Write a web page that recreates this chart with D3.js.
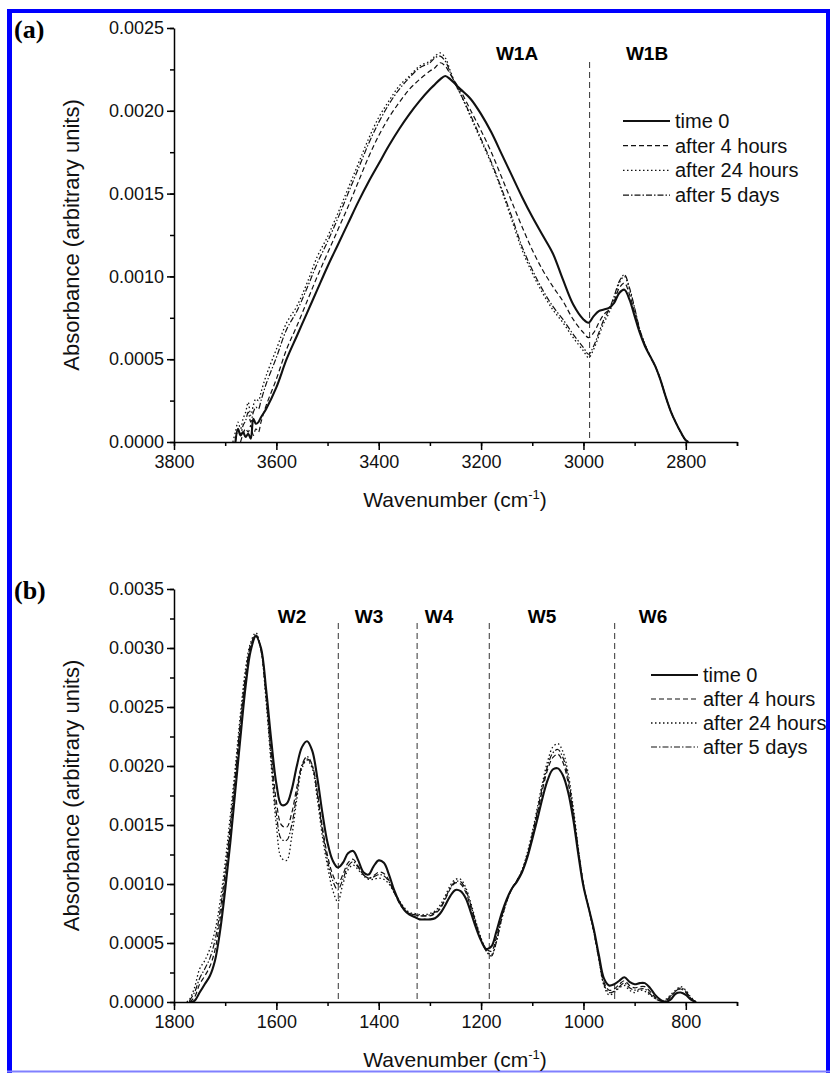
<!DOCTYPE html>
<html>
<head>
<meta charset="utf-8">
<script src="https://cdn.jsdelivr.net/npm/d3@7"></script>
<style>
  body { margin: 0; background: #fff; }
  svg { display: block; font-family: Arial, "Liberation Sans", sans-serif; }
</style>
</head>
<body>
<div id="chart"></div>
<script>
// ---- data, panel (a) ----
const waveA = [3685, 3680, 3675, 3670, 3665, 3660, 3655, 3650, 3645, 3640, 3635, 3630, 3620, 3600, 3580, 3560, 3540, 3520, 3500,
  3480, 3460, 3440, 3420, 3400, 3380, 3360, 3340, 3320, 3300, 3290, 3280, 3270, 3260, 3250, 3240, 3220, 3200, 3180, 3160,
  3140, 3120, 3100, 3080, 3060, 3040, 3020, 3000, 2990, 2980, 2970, 2960, 2950, 2940, 2930, 2920, 2910, 2900, 2890, 2880,
  2870, 2860, 2850, 2840, 2830, 2820, 2810, 2800, 2795];
const a_time0 = [null, 0.00000, 0.00008, 0.00004, 0.00006, 0.00003, 0.00005, 0.00002, 0.00014, 0.00011, 0.00012, 0.00015, 0.00020, 0.00033, 0.00050, 0.00064, 0.00078, 0.00092, 0.00106,
  0.00119, 0.00132, 0.00145, 0.00157, 0.00168, 0.00179, 0.00189, 0.00198, 0.00206, 0.00213, 0.00216, 0.00219, 0.00221, 0.00219, 0.00216, 0.00213, 0.00207, 0.00198, 0.00187, 0.00174,
  0.00161, 0.00148, 0.00136, 0.00125, 0.00114, 0.00098, 0.00083, 0.00074, 0.00072, 0.00076, 0.00079, 0.00080, 0.00081, 0.00084, 0.00090, 0.00092, 0.00086, 0.00076, 0.00066, 0.00058,
  0.00052, 0.00046, 0.00038, 0.00028, 0.00019, 0.00012, 0.00006, 0.00001, 0.00000];
const a_4h = [null, null, null, 0.00000, 0.00005, 0.00008, 0.00006, 0.00010, 0.00004, 0.00008, 0.00006, 0.00012, 0.00022, 0.00038, 0.00056, 0.00070, 0.00085, 0.00100, 0.00114,
  0.00128, 0.00142, 0.00157, 0.00172, 0.00185, 0.00196, 0.00205, 0.00213, 0.00219, 0.00224, 0.00226, 0.00229, 0.00227, 0.00222, 0.00217, 0.00212, 0.00200, 0.00188, 0.00175, 0.00160,
  0.00145, 0.00130, 0.00116, 0.00104, 0.00094, 0.00085, 0.00074, 0.00066, 0.00063, 0.00066, 0.00072, 0.00077, 0.00080, 0.00085, 0.00093, 0.00096, 0.00089, 0.00078, 0.00067, 0.00059,
  0.00052, 0.00046, 0.00038, 0.00028, 0.00019, 0.00012, 0.00006, 0.00001, 0.00000];
const a_24h = [0.00000, 0.00006, 0.00012, 0.00008, 0.00014, 0.00018, 0.00024, 0.00016, 0.00022, 0.00026, 0.00025, 0.00030, 0.00040, 0.00056, 0.00072, 0.00082, 0.00096, 0.00112, 0.00124,
  0.00138, 0.00153, 0.00168, 0.00183, 0.00196, 0.00206, 0.00215, 0.00221, 0.00227, 0.00230, 0.00233, 0.00235, 0.00232, 0.00224, 0.00216, 0.00210, 0.00196, 0.00182, 0.00168, 0.00152,
  0.00134, 0.00116, 0.00102, 0.00090, 0.00080, 0.00072, 0.00063, 0.00055, 0.00051, 0.00056, 0.00064, 0.00072, 0.00078, 0.00086, 0.00096, 0.00100, 0.00092, 0.00080, 0.00068, 0.00059,
  0.00052, 0.00046, 0.00038, 0.00028, 0.00019, 0.00012, 0.00006, 0.00001, 0.00000];
const a_5d = [null, 0.00000, 0.00007, 0.00005, 0.00010, 0.00013, 0.00018, 0.00012, 0.00018, 0.00021, 0.00020, 0.00025, 0.00035, 0.00051, 0.00068, 0.00079, 0.00093, 0.00108, 0.00121,
  0.00135, 0.00150, 0.00165, 0.00180, 0.00193, 0.00204, 0.00213, 0.00220, 0.00226, 0.00229, 0.00232, 0.00233, 0.00230, 0.00223, 0.00216, 0.00210, 0.00197, 0.00183, 0.00169, 0.00153,
  0.00136, 0.00118, 0.00104, 0.00092, 0.00082, 0.00074, 0.00065, 0.00057, 0.00053, 0.00058, 0.00066, 0.00074, 0.00080, 0.00088, 0.00097, 0.00101, 0.00093, 0.00081, 0.00068, 0.00059,
  0.00052, 0.00046, 0.00038, 0.00028, 0.00019, 0.00012, 0.00006, 0.00001, 0.00000];

// ---- data, panel (b) ----
const waveB = [1775, 1770, 1760, 1750, 1740, 1730, 1720, 1710, 1700, 1690, 1680, 1670, 1660, 1650, 1640, 1630, 1620, 1610, 1600,
  1590, 1580, 1570, 1560, 1550, 1540, 1530, 1520, 1510, 1500, 1490, 1480, 1470, 1460, 1450, 1440, 1430, 1420, 1410, 1400,
  1390, 1380, 1370, 1360, 1350, 1340, 1330, 1320, 1310, 1300, 1290, 1280, 1270, 1260, 1250, 1240, 1230, 1220, 1210, 1200,
  1190, 1180, 1170, 1160, 1150, 1140, 1130, 1120, 1110, 1100, 1090, 1080, 1070, 1060, 1050, 1040, 1030, 1020, 1010, 1000,
  990, 980, 970, 960, 950, 940, 930, 920, 910, 900, 890, 880, 870, 860, 850, 840, 830, 820, 810, 800, 790, 780];
const b_time0 = [null, 0.00000, 0.00001, 0.00008, 0.00015, 0.00022, 0.00035, 0.00060, 0.00095, 0.00135, 0.00180, 0.00225, 0.00268, 0.00298, 0.00310, 0.00300, 0.00265, 0.00222, 0.00185,
  0.00167, 0.00168, 0.00180, 0.00200, 0.00216, 0.00221, 0.00213, 0.00190, 0.00160, 0.00135, 0.00120, 0.00114, 0.00118, 0.00126, 0.00128, 0.00120, 0.00110, 0.00108, 0.00115, 0.00120,
  0.00118, 0.00108, 0.00095, 0.00085, 0.00078, 0.00074, 0.00072, 0.00070, 0.00070, 0.00070, 0.00071, 0.00075, 0.00082, 0.00090, 0.00095, 0.00094, 0.00088, 0.00076, 0.00063, 0.00052,
  0.00045, 0.00047, 0.00060, 0.00075, 0.00087, 0.00096, 0.00102, 0.00110, 0.00122, 0.00138, 0.00155, 0.00173, 0.00188, 0.00197, 0.00198, 0.00192, 0.00178, 0.00155, 0.00125, 0.00098,
  0.00080, 0.00062, 0.00040, 0.00020, 0.00014, 0.00015, 0.00018, 0.00021, 0.00017, 0.00015, 0.00016, 0.00016, 0.00012, 0.00006, 0.00002, 0.00000, 0.00002, 0.00007, 0.00008, 0.00006, 0.00002, 0.00000];
const b_4h = [null, 0.00000, 0.00004, 0.00015, 0.00022, 0.00030, 0.00044, 0.00070, 0.00105, 0.00145, 0.00190, 0.00235, 0.00275, 0.00302, 0.00311, 0.00299, 0.00260, 0.00212, 0.00170,
  0.00150, 0.00148, 0.00160, 0.00182, 0.00200, 0.00206, 0.00200, 0.00178, 0.00148, 0.00124, 0.00108, 0.00100, 0.00108, 0.00118, 0.00121, 0.00115, 0.00108, 0.00105, 0.00107, 0.00110,
  0.00109, 0.00103, 0.00093, 0.00084, 0.00078, 0.00075, 0.00074, 0.00073, 0.00073, 0.00073, 0.00075, 0.00079, 0.00087, 0.00096, 0.00101, 0.00100, 0.00093, 0.00080, 0.00066, 0.00053,
  0.00045, 0.00043, 0.00055, 0.00072, 0.00086, 0.00096, 0.00103, 0.00111, 0.00124, 0.00141, 0.00160, 0.00180, 0.00197, 0.00207, 0.00210, 0.00203, 0.00186, 0.00160, 0.00128, 0.00099,
  0.00080, 0.00061, 0.00038, 0.00017, 0.00010, 0.00011, 0.00015, 0.00018, 0.00014, 0.00012, 0.00013, 0.00013, 0.00009, 0.00004, 0.00001, 0.00001, 0.00004, 0.00009, 0.00011, 0.00008, 0.00003, 0.00000];
const b_24h = [0.00000, 0.00002, 0.00012, 0.00028, 0.00035, 0.00045, 0.00060, 0.00085, 0.00118, 0.00158, 0.00200, 0.00245, 0.00283, 0.00305, 0.00313, 0.00298, 0.00255, 0.00200, 0.00150,
  0.00122, 0.00120, 0.00140, 0.00172, 0.00198, 0.00205, 0.00198, 0.00172, 0.00140, 0.00115, 0.00095, 0.00085, 0.00100, 0.00112, 0.00116, 0.00112, 0.00107, 0.00104, 0.00104, 0.00105,
  0.00104, 0.00100, 0.00093, 0.00086, 0.00080, 0.00076, 0.00075, 0.00074, 0.00074, 0.00075, 0.00077, 0.00082, 0.00090, 0.00099, 0.00104, 0.00104, 0.00097, 0.00084, 0.00068, 0.00054,
  0.00044, 0.00040, 0.00052, 0.00070, 0.00085, 0.00096, 0.00103, 0.00112, 0.00126, 0.00144, 0.00165, 0.00186, 0.00204, 0.00216, 0.00219, 0.00212, 0.00194, 0.00165, 0.00130, 0.00100,
  0.00080, 0.00060, 0.00036, 0.00014, 0.00006, 0.00008, 0.00012, 0.00014, 0.00010, 0.00008, 0.00010, 0.00009, 0.00006, 0.00003, 0.00001, 0.00002, 0.00006, 0.00010, 0.00013, 0.00010, 0.00004, 0.00000];
const b_5d = [null, 0.00001, 0.00008, 0.00020, 0.00028, 0.00037, 0.00052, 0.00077, 0.00110, 0.00150, 0.00194, 0.00239, 0.00278, 0.00303, 0.00311, 0.00298, 0.00258, 0.00206, 0.00160,
  0.00138, 0.00137, 0.00150, 0.00177, 0.00201, 0.00208, 0.00201, 0.00176, 0.00145, 0.00120, 0.00103, 0.00095, 0.00104, 0.00115, 0.00119, 0.00114, 0.00108, 0.00105, 0.00106, 0.00108,
  0.00107, 0.00102, 0.00093, 0.00085, 0.00079, 0.00075, 0.00074, 0.00073, 0.00073, 0.00074, 0.00076, 0.00080, 0.00088, 0.00097, 0.00102, 0.00102, 0.00095, 0.00082, 0.00067, 0.00053,
  0.00043, 0.00039, 0.00051, 0.00070, 0.00085, 0.00096, 0.00103, 0.00111, 0.00124, 0.00142, 0.00162, 0.00183, 0.00200, 0.00211, 0.00214, 0.00207, 0.00190, 0.00162, 0.00129, 0.00099,
  0.00080, 0.00060, 0.00037, 0.00015, 0.00008, 0.00009, 0.00013, 0.00016, 0.00012, 0.00010, 0.00011, 0.00011, 0.00007, 0.00003, 0.00001, 0.00001, 0.00005, 0.00009, 0.00012, 0.00009, 0.00003, 0.00000];

const seriesNames = ["time 0", "after 4 hours", "after 24 hours", "after 5 days"];
const regionsA = ["W1A", "W1B"];
const dividersA = [2988];
const regionsB = ["W2", "W3", "W4", "W5", "W6"];
const dividersB = [1479, 1325, 1184, 939];

// line styles per series
const styles = [
  { width: 2.1, dash: null },
  { width: 1.2, dash: "5,3" },
  { width: 1.3, dash: "1.5,2.5" },
  { width: 1.2, dash: "6,2,1.5,2" }
];

const W = 830, H = 1073;
const svg = d3.select("#chart").append("svg")
  .attr("width", W)
  .attr("height", H);

// blue frame
svg.append("line").attr("x1", 7).attr("x2", 830).attr("y1", 11).attr("y2", 11).attr("stroke", "#0000ff").attr("stroke-width", 4);
svg.append("line").attr("x1", 9.5).attr("x2", 9.5).attr("y1", 9).attr("y2", 1073).attr("stroke", "#0000ff").attr("stroke-width", 5);
svg.append("line").attr("x1", 828).attr("x2", 828).attr("y1", 9).attr("y2", 1073).attr("stroke", "#0000ff").attr("stroke-width", 4);
svg.append("line").attr("x1", 7).attr("x2", 830).attr("y1", 1071.5).attr("y2", 1071.5).attr("stroke", "#8080ff").attr("stroke-width", 2);

function drawPanel(cfg) {
  const g = svg.append("g");
  const x = d3.scaleLinear().domain(cfg.xDomain).range([174, 737]);
  const y = d3.scaleLinear().domain(cfg.yDomain).range([cfg.bottom, cfg.top]);

  // divider lines
  g.selectAll(".div").data(cfg.dividers).enter().append("line")
    .attr("x1", d => x(d)).attr("x2", d => x(d))
    .attr("y1", cfg.divTop).attr("y2", cfg.bottom)
    .attr("stroke", "#333").attr("stroke-width", 1)
    .attr("stroke-dasharray", "6,4");

  // region labels
  g.selectAll(".reg").data(cfg.regions).enter().append("text")
    .attr("x", (d, i) => cfg.regionX[i])
    .attr("y", cfg.regionY)
    .attr("text-anchor", "middle")
    .style("font-size", "19px").style("font-weight", "bold")
    .text(d => d);

  // curves
  const line = d3.line()
    .defined(d => d[1] != null)
    .curve(d3.curveCatmullRom.alpha(0.5))
    .x(d => x(d[0]))
    .y(d => y(d[1]));
  cfg.series.forEach((vals, i) => {
    const pts = cfg.wave.map((w, j) => [w, vals[j]]);
    g.append("path")
      .datum(pts)
      .attr("d", line)
      .attr("fill", "none")
      .attr("stroke", "#111")
      .attr("stroke-width", styles[i].width)
      .attr("stroke-dasharray", styles[i].dash)
      .attr("stroke-linejoin", "round");
  });

  // axes
  const yMinor = d3.range(cfg.yDomain[0], cfg.yDomain[1] + 1e-9, 0.00025);
  g.append("g").attr("transform", "translate(174,0)")
    .call(d3.axisLeft(y).tickValues(yMinor).tickSize(4).tickFormat(""))
    .call(a => a.select(".domain").remove())
    .selectAll("line").attr("stroke-width", 1.5);
  const yAxis = g.append("g").attr("transform", "translate(174,0)")
    .call(d3.axisLeft(y).tickValues(d3.range(cfg.yDomain[0], cfg.yDomain[1] + 1e-9, 0.0005))
      .tickSize(7).tickSizeOuter(0).tickFormat(d3.format(".4f")));
  yAxis.select(".domain").attr("stroke-width", 1.5);
  yAxis.selectAll("line").attr("stroke-width", 1.5);
  yAxis.selectAll("text").style("font-size", "18px").attr("fill", "#111").attr("x", -10);

  const xMinor = d3.range(cfg.xDomain[0], cfg.xDomain[1] - 1, -100);
  xMinor.push(cfg.xDomain[1]);
  g.append("g").attr("transform", `translate(0,${cfg.bottom})`)
    .call(d3.axisBottom(x).tickValues(xMinor).tickSize(4).tickFormat(""))
    .call(a => a.select(".domain").remove())
    .selectAll("line").attr("stroke-width", 1.5);
  const xAxis = g.append("g").attr("transform", `translate(0,${cfg.bottom})`)
    .call(d3.axisBottom(x).tickValues(cfg.xMajor).tickSize(8).tickSizeOuter(0).tickFormat(d3.format("d")));
  xAxis.select(".domain").attr("stroke-width", 1.5);
  xAxis.selectAll("line").attr("stroke-width", 1.5);
  xAxis.selectAll("text").style("font-size", "18px").attr("fill", "#111").attr("y", 13);

  // axis titles
  const xt = g.append("text")
    .attr("x", 455).attr("y", cfg.bottom + 65)
    .attr("text-anchor", "middle")
    .style("font-size", "21px").attr("fill", "#111");
  xt.append("tspan").text("Wavenumber (cm");
  xt.append("tspan").attr("dy", -8).style("font-size", "13px").text("-1");
  xt.append("tspan").attr("dy", 8).text(")");

  g.append("text")
    .attr("transform", `translate(79,${(cfg.top + cfg.bottom) / 2}) rotate(-90)`)
    .attr("text-anchor", "middle")
    .style("font-size", "22px").attr("fill", "#111")
    .text("Absorbance (arbitrary units)");

  // panel tag
  g.append("text")
    .attr("x", 14).attr("y", cfg.top + 10)
    .style("font-family", "'Liberation Serif', 'Times New Roman', serif")
    .style("font-size", "26px").style("font-weight", "bold")
    .text(cfg.tag);

  // legend
  const leg = g.append("g");
  seriesNames.forEach((name, i) => {
    const yy = cfg.legY + i * cfg.legStep;
    leg.append("line")
      .attr("x1", cfg.legX).attr("x2", cfg.legX + 47)
      .attr("y1", yy).attr("y2", yy)
      .attr("stroke", "#111")
      .attr("stroke-width", styles[i].width)
      .attr("stroke-dasharray", styles[i].dash);
    leg.append("text")
      .attr("x", cfg.legX + 52).attr("y", yy + 7)
      .style("font-size", "20px").attr("fill", "#111")
      .text(name);
  });
}

drawPanel({
  tag: "(a)", top: 28, bottom: 442, xDomain: [3800, 2700], yDomain: [0, 0.0025],
  xMajor: [3800, 3600, 3400, 3200, 3000, 2800],
  wave: waveA, series: [a_time0, a_4h, a_24h, a_5d],
  dividers: dividersA, divTop: 62, regions: regionsA, regionX: [517, 647], regionY: 60,
  legX: 623, legY: 121, legStep: 24.7
});

drawPanel({
  tag: "(b)", top: 589, bottom: 1002, xDomain: [1800, 700], yDomain: [0, 0.0035],
  xMajor: [1800, 1600, 1400, 1200, 1000, 800],
  wave: waveB, series: [b_time0, b_4h, b_24h, b_5d],
  dividers: dividersB, divTop: 623, regions: regionsB, regionX: [292, 369, 439, 542, 653], regionY: 623,
  legX: 651, legY: 675, legStep: 24
});
</script>
</body>
</html>
